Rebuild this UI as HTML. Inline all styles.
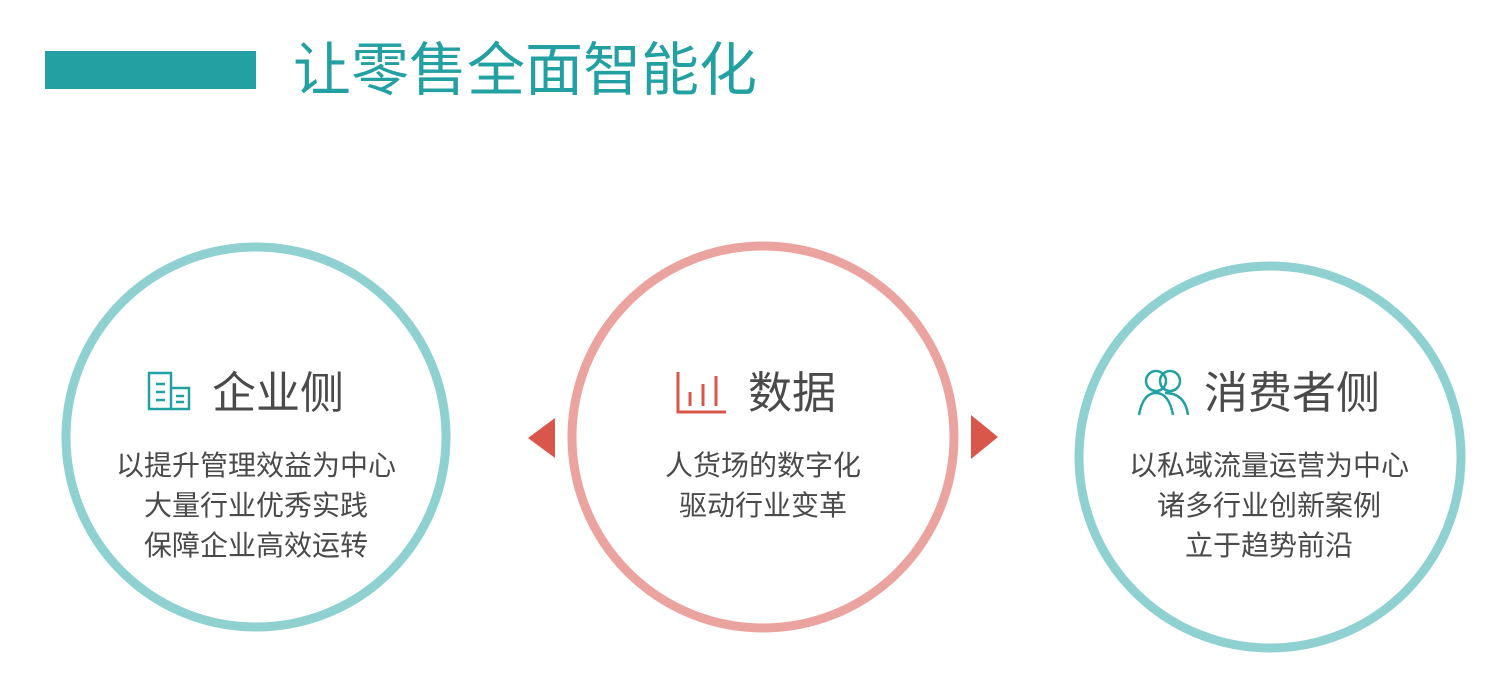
<!DOCTYPE html>
<html><head><meta charset="utf-8"><style>
body{margin:0;width:1507px;height:692px;background:#fff;position:relative;overflow:hidden;font-family:"Liberation Sans","Noto Sans CJK SC",sans-serif}
.a{position:absolute}
.t{position:absolute;white-space:nowrap;color:#4a4a4a;text-align:center}
</style></head><body>
<div class="a" style="left:45px;top:51px;width:211px;height:38px;background:#22a0a2"></div>
<div class="t" style="left:293px;top:36px;font-size:58px;line-height:70px;color:#22a0a2;text-align:left">让零售全面智能化</div>
<svg class="a" style="left:0;top:0" width="1507" height="692">
<circle cx="256" cy="437" r="190" fill="none" stroke="#8fd0d0" stroke-width="9"/>
<circle cx="763" cy="437" r="191" fill="none" stroke="#eba3a0" stroke-width="9"/>
<circle cx="1270" cy="457" r="191" fill="none" stroke="#8fd0d0" stroke-width="9"/>
<polygon points="528,438 555,418 555,458" fill="#d9574a"/>
<polygon points="998,437 971,415 971,459" fill="#d9574a"/>
<g fill="none" stroke="#22a0a2" stroke-width="2.5">
<rect x="149" y="373" width="22" height="36"/>
<path d="M171 388 h18 v21 h-18"/>
<path d="M156 384 h9 M156 392 h9 M156 400 h9 M176 396 h8 M176 402 h8"/>
</g>
<g fill="none" stroke="#d9574a" stroke-width="3">
<path d="M678 372 v40 h48"/><path d="M690 392 v14 M703 384 v22 M716 376 v30"/>
</g>
<g fill="none" stroke="#22a0a2" stroke-width="2.5">
<circle cx="1156" cy="381" r="10"/><circle cx="1170" cy="381" r="10"/>
<path d="M1139 415 q4 -22 17 -22 q13 0 17 22"/><path d="M1165 393 q20 0 23 22"/>
</g>
</svg>
<div class="t" style="left:212px;top:366px;font-size:44px;line-height:56px">企业侧</div>
<div class="t" style="left:56px;width:400px;top:446px;font-size:28px;line-height:40px">以提升管理效益为中心<br>大量行业优秀实践<br>保障企业高效运转</div>
<div class="t" style="left:748px;top:366px;font-size:44px;line-height:56px">数据</div>
<div class="t" style="left:563px;width:400px;top:446px;font-size:28px;line-height:40px">人货场的数字化<br>驱动行业变革</div>
<div class="t" style="left:1204px;top:366px;font-size:44px;line-height:56px">消费者侧</div>
<div class="t" style="left:1069px;width:400px;top:446px;font-size:28px;line-height:40px">以私域流量运营为中心<br>诸多行业创新案例<br>立于趋势前沿</div>
</body></html>
